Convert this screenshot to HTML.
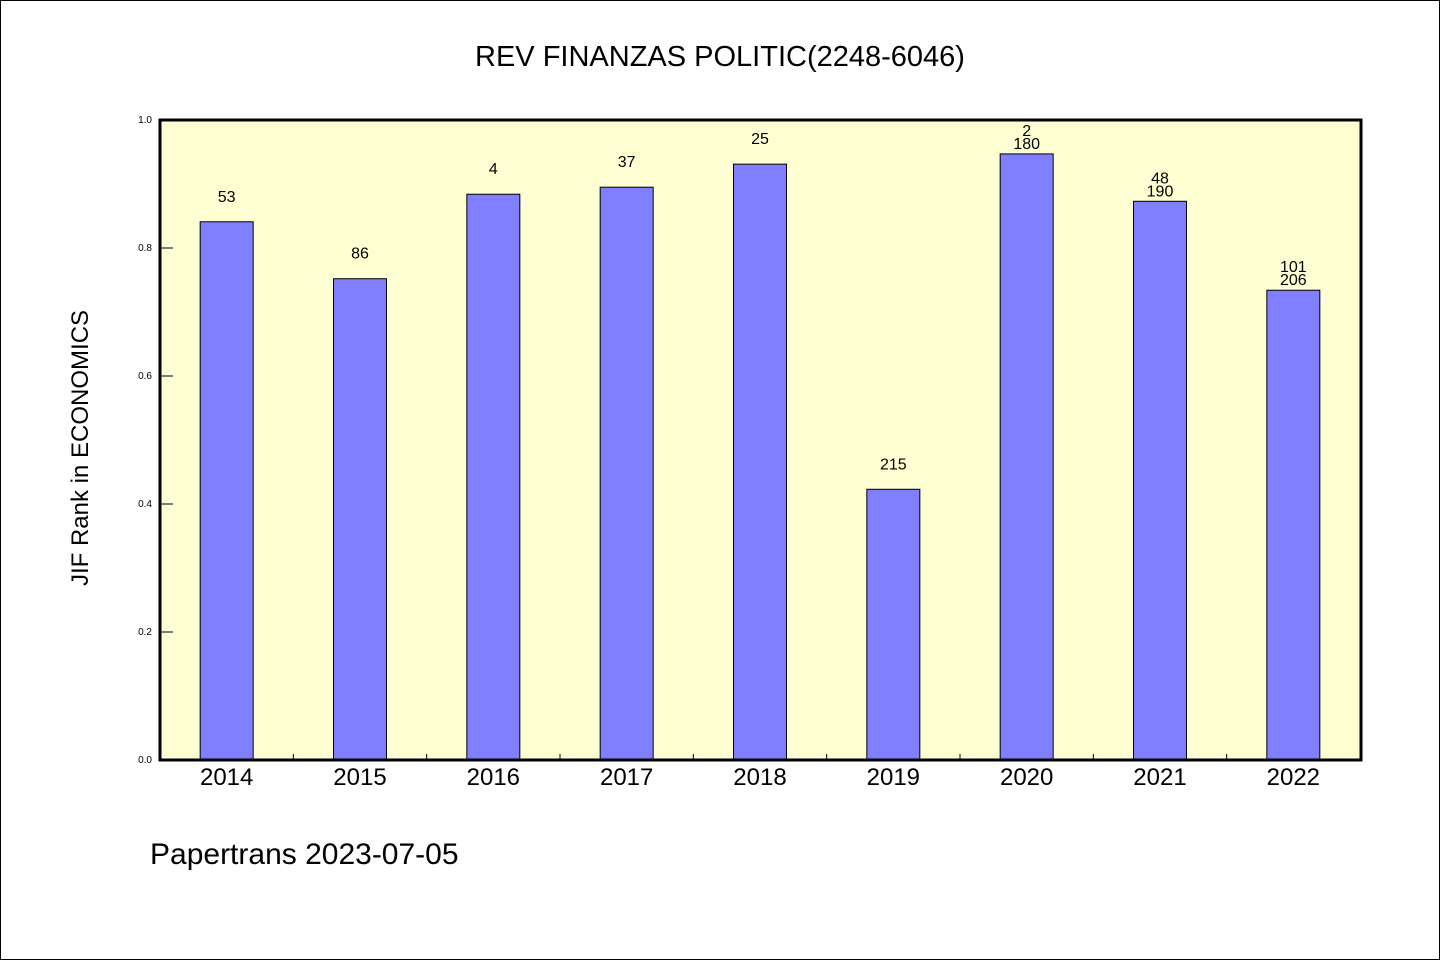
<!DOCTYPE html>
<html><head><meta charset="utf-8"><style>
body{margin:0;background:#fff}
svg{display:block;font-family:"WenQuanYi Zen Hei","Liberation Sans",sans-serif}
</style></head><body>
<svg id="chart" width="1440" height="960">
<rect x="0.5" y="0.5" width="1439" height="959" fill="#fff" stroke="#000"/>
<text x="720" y="66" text-anchor="middle" font-size="29">REV FINANZAS POLITIC(2248-6046)</text>
<rect x="160" y="120" width="1201" height="640" fill="#ffffd4"/>
<g id="bars"></g>
<g id="axes"></g>
<rect x="160" y="120" width="1201" height="640" fill="none" stroke="#000" stroke-width="3"/>
<text transform="translate(88,448) rotate(-90)" text-anchor="middle" font-size="24">JIF Rank in ECONOMICS</text>
<text x="150" y="864" font-size="30">Papertrans 2023-07-05</text>
</svg>
<script>
const categories=["2014","2015","2016","2017","2018","2019","2020","2021","2022"];
const values=[0.841,0.752,0.884,0.895,0.931,0.423,0.947,0.873,0.734];
const rankLabels=["53","86","4","37","25","215","2","48","101"];
const totalLabels=["","","","","","","180","190","206"];
const yTicks=[0,0.2,0.4,0.6,0.8,1.0];
const ns="http://www.w3.org/2000/svg";
const X0=160,X1=1360,Y0=760,Y1=120;
const bw=(X1-X0)/categories.length;
const xc=i=>X0+bw*(i+0.5);
const y=v=>Y0-(Y0-Y1)*v;
function mk(tag,attrs,parent){const e=document.createElementNS(ns,tag);for(const k in attrs)e.setAttribute(k,attrs[k]);parent.appendChild(e);return e;}
const bars=document.getElementById('bars'),axes=document.getElementById('axes');
categories.forEach((c,i)=>{
  const r=mk('rect',{x:xc(i)-26.5,y:y(values[i]),width:53,height:Y0-y(values[i]),fill:'#8080ff',stroke:'#000','stroke-width':1},bars);
  
  
  if(totalLabels[i]){
    const t1=mk('text',{x:xc(i),y:y(values[i])-5,'text-anchor':'middle','font-size':16},bars);t1.textContent=totalLabels[i];
    
    
    const t2=mk('text',{x:xc(i),y:y(values[i])-18,'text-anchor':'middle','font-size':16},bars);t2.textContent=rankLabels[i];
    
    
  }else{
    const t=mk('text',{x:xc(i),y:y(values[i])-20,'text-anchor':'middle','font-size':16},bars);t.textContent=rankLabels[i];
    
    
  }
  const xl=mk('text',{x:xc(i),y:785,'text-anchor':'middle','font-size':24},axes);xl.textContent=c;
  
  
  if(i>0){const tk=mk('line',{x1:X0+bw*i,x2:X0+bw*i,y1:Y0,y2:Y0-6,stroke:'#000'},axes);
    
    }
});
yTicks.forEach(v=>{
  const l=mk('line',{x1:X0,x2:X0+13,y1:y(v),y2:y(v),stroke:'#000'},axes);
  
  
  const t=mk('text',{x:152,y:y(v)+3,'text-anchor':'end','font-size':10},axes);t.textContent=v.toFixed(1);
  
  
});
</script>
</body></html>
